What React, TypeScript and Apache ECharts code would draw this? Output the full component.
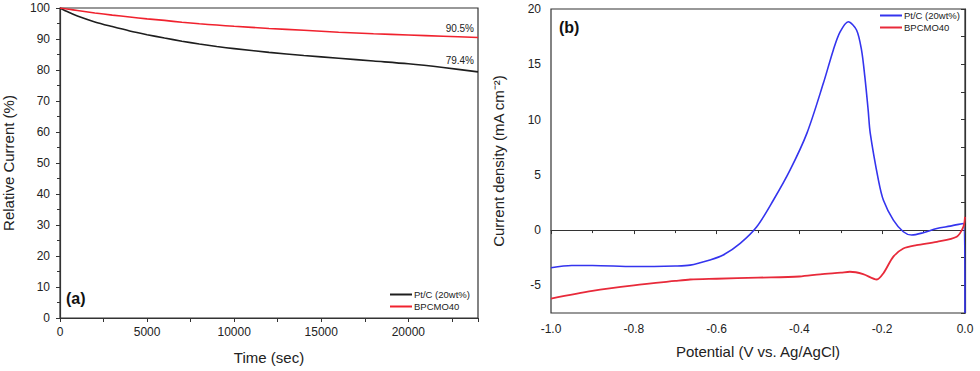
import React, { useEffect, useRef } from "react";
import * as echarts from "echarts";

// Panel (a): chronoamperometry, relative current (%) vs time (sec)
const timeSec = [0, 500, 1000, 2000, 3000, 4000, 5000, 6000, 7000, 8000, 9000, 10000, 12000, 14000, 16000, 18000, 20000, 22000, 24000];
const ptcRelative = [100, 98.6, 97.4, 95.5, 94.0, 92.6, 91.4, 90.3, 89.3, 88.4, 87.6, 86.9, 85.7, 84.7, 83.8, 82.9, 82.0, 80.8, 79.4];
const bpcmoRelative = [100, 99.6, 99.2, 98.4, 97.7, 97.1, 96.5, 96.0, 95.4, 94.9, 94.5, 94.1, 93.4, 92.8, 92.2, 91.7, 91.3, 90.9, 90.5];

// Panel (b): LSV, current density vs potential
const ptcPotential = [-1.0, -0.95, -0.9, -0.8, -0.7, -0.664, -0.616, -0.584, -0.543, -0.503, -0.463, -0.423, -0.382, -0.342, -0.318, -0.302, -0.282, -0.262, -0.25, -0.242, -0.234, -0.229, -0.209, -0.197, -0.173, -0.149, -0.129, -0.101, -0.068, -0.036, -0.004, 0.0];
const ptcDensity = [-3.4, -3.2, -3.2, -3.3, -3.25, -3.17, -2.7, -2.26, -1.2, 0.3, 2.7, 5.4, 8.75, 13.3, 16.3, 17.9, 18.85, 18.1, 16.3, 13.9, 10.9, 8.8, 4.5, 2.7, 0.9, -0.15, -0.45, -0.24, 0.15, 0.36, 0.6, -7.5];
const bpcmoPotential = [-1.0, -0.9, -0.8, -0.7, -0.664, -0.6, -0.5, -0.4, -0.35, -0.3, -0.278, -0.246, -0.213, -0.197, -0.173, -0.149, -0.117, -0.068, -0.02, -0.004, 0.0];
const bpcmoDensity = [-6.2, -5.5, -5.0, -4.6, -4.47, -4.4, -4.3, -4.2, -4.0, -3.85, -3.77, -3.98, -4.47, -3.9, -2.4, -1.66, -1.36, -1.06, -0.6, 0.3, 1.2];

const leftYTicks = [0, 10, 20, 30, 40, 50, 60, 70, 80, 90, 100];
const rightXTicks = [-1.0, -0.8, -0.6, -0.4, -0.2, 0.0];
const retentionLabels = ["90.5%", "79.4%"];

const FONT = "'Liberation Sans', Arial, sans-serif";
const pair = (xs: number[], ys: number[]) => xs.map((x, i) => [x, ys[i]]);

export default function App() {
  const ref = useRef<HTMLDivElement>(null);
  useEffect(() => {
    document.body.style.margin = "0";
    if (!ref.current) return;
    const chart = echarts.init(ref.current, null, { renderer: "svg" });
    const axisCommon = {
      axisLine: { show: true, lineStyle: { color: "#333", width: 1.2 } },
      axisTick: { show: true, inside: false, length: 4, lineStyle: { color: "#333" } },
      splitLine: { show: false },
      axisLabel: { color: "#222", fontSize: 12, fontFamily: FONT },
      nameTextStyle: { color: "#222", fontSize: 15, fontFamily: FONT },
      nameLocation: "middle" as const,
    };
    chart.setOption({
      animation: false,
      backgroundColor: "#fff",
      grid: [
        { left: 60, right: 502, top: 8, bottom: 53, show: true, borderColor: "#333", borderWidth: 1.2 },
        { left: 551, right: 15, top: 9, bottom: 58, show: true, borderColor: "#333", borderWidth: 1.2 },
      ],
      xAxis: [
        {
          ...axisCommon,
          type: "value",
          gridIndex: 0,
          min: 0,
          max: 24000,
          interval: 2500,
          name: "Time (sec)",
          nameGap: 32,
          axisLabel: {
            ...axisCommon.axisLabel,
            margin: 8,
            formatter: (v: number) => (v % 5000 === 0 ? String(v) : ""),
          },
        },
        {
          ...axisCommon,
          type: "value",
          gridIndex: 1,
          min: -1,
          max: 0,
          interval: 0.2,
          minorTick: { show: true, splitNumber: 2, length: 3, lineStyle: { color: "#333" } },
          name: "Potential (V vs. Ag/AgCl)",
          nameGap: 31,
          axisLabel: {
            ...axisCommon.axisLabel,
            margin: 10,
            customValues: rightXTicks,
            formatter: (v: number) => v.toFixed(1),
          },
        },
      ],
      yAxis: [
        {
          ...axisCommon,
          type: "value",
          gridIndex: 0,
          min: 0,
          max: 100,
          interval: 10,
          minorTick: { show: true, splitNumber: 2, length: 3, lineStyle: { color: "#333" } },
          name: "Relative Current (%)",
          nameGap: 44,
          axisLabel: { ...axisCommon.axisLabel, margin: 10, customValues: leftYTicks },
        },
        {
          ...axisCommon,
          type: "value",
          gridIndex: 1,
          min: -7.5,
          max: 20,
          interval: 2.5,
          name: "Current density (mA cm⁻²)",
          nameGap: 45,
          axisLabel: {
            ...axisCommon.axisLabel,
            margin: 10,
            formatter: (v: number) => (Math.abs(v % 5) < 1e-9 ? String(v) : ""),
          },
        },
      ],
      legend: [
        {
          data: ["Pt/C (20wt%)#a", "BPCMO40#a"],
          left: 390,
          top: 289,
          orient: "vertical",
          padding: 0,
          itemGap: 1,
          itemWidth: 22,
          itemHeight: 2,
          icon: "rect",
          formatter: (n: string) => n.split("#")[0],
          textStyle: { fontSize: 9.5, fontFamily: FONT, color: "#222", lineHeight: 11, padding: [0, 0, 0, -3] },
        },
        {
          data: ["Pt/C (20wt%)#b", "BPCMO40#b"],
          left: 880,
          top: 10,
          orient: "vertical",
          padding: 0,
          itemGap: 1,
          itemWidth: 22,
          itemHeight: 2,
          icon: "rect",
          formatter: (n: string) => n.split("#")[0],
          textStyle: { fontSize: 9.5, fontFamily: FONT, color: "#222", lineHeight: 11, padding: [0, 0, 0, -3] },
        },
      ],
      series: [
        {
          name: "Pt/C (20wt%)#a",
          type: "line",
          xAxisIndex: 0,
          yAxisIndex: 0,
          data: pair(timeSec, ptcRelative),
          smooth: 0.3,
          showSymbol: false,
          symbol: "none",
          color: "#1e1e1e",
          lineStyle: { width: 1.6, color: "#1e1e1e" },
        },
        {
          name: "BPCMO40#a",
          type: "line",
          xAxisIndex: 0,
          yAxisIndex: 0,
          data: pair(timeSec, bpcmoRelative),
          smooth: 0.3,
          showSymbol: false,
          symbol: "none",
          color: "#f0222e",
          lineStyle: { width: 1.6, color: "#f0222e" },
        },
        {
          name: "Pt/C (20wt%)#b",
          type: "line",
          xAxisIndex: 1,
          yAxisIndex: 1,
          data: pair(ptcPotential, ptcDensity),
          smooth: 0.3,
          showSymbol: false,
          symbol: "none",
          color: "#3434ee",
          lineStyle: { width: 1.6, color: "#3434ee" },
        },
        {
          name: "BPCMO40#b",
          type: "line",
          xAxisIndex: 1,
          yAxisIndex: 1,
          data: pair(bpcmoPotential, bpcmoDensity),
          smooth: 0.3,
          showSymbol: false,
          symbol: "none",
          color: "#e82a3a",
          lineStyle: { width: 1.8, color: "#e82a3a" },
        },
      ],
      graphic: [
        { type: "text", left: 66, top: 290, style: { text: "(a)", font: `bold 16px ${FONT}`, fill: "#111" } },
        { type: "text", left: 559, top: 19, style: { text: "(b)", font: `bold 16px ${FONT}`, fill: "#111" } },
        { type: "text", x: 474, y: 28, style: { text: retentionLabels[0], font: `10px ${FONT}`, fill: "#222", align: "right", verticalAlign: "middle" } },
        { type: "text", x: 474, y: 60, style: { text: retentionLabels[1], font: `10px ${FONT}`, fill: "#222", align: "right", verticalAlign: "middle" } },
      ],
    });
    return () => chart.dispose();
  }, []);
  return <div ref={ref} style={{ width: 980, height: 371 }} />;
}
